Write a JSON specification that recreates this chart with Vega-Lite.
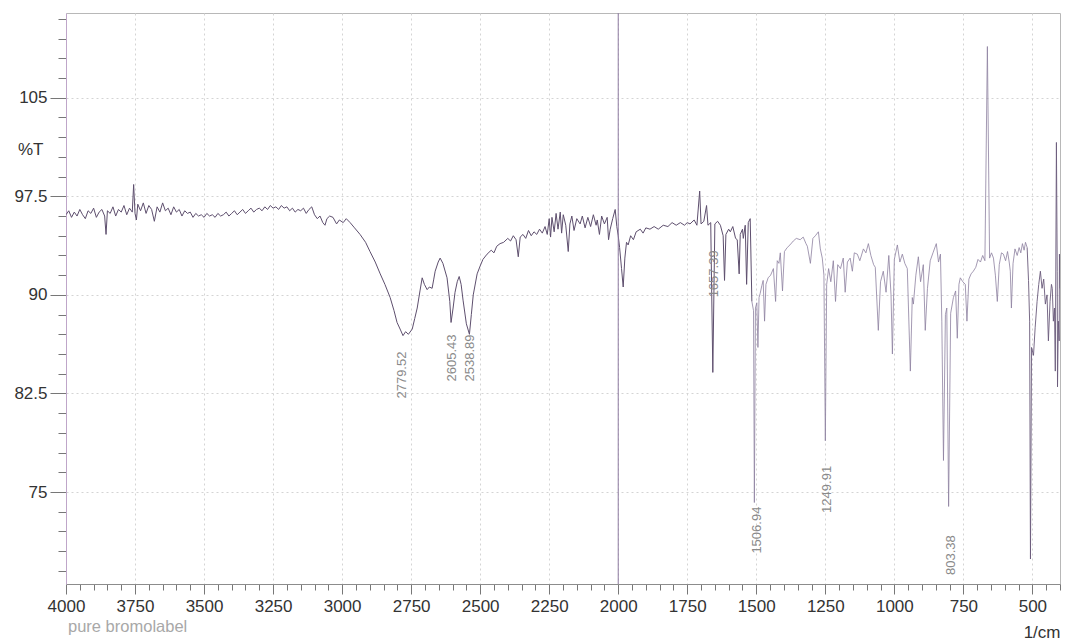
{
  "$schema": "https://vega.github.io/schema/vega-lite/v6.json",
  "width": 994,
  "height": 571,
  "autosize": {"type": "none"},
  "padding": {"left": 66, "top": 13, "right": 5, "bottom": 60},
  "background": "white",
  "config": {"view": {"stroke": "#b8b8b8", "strokeWidth": 1}, "font": "Liberation Sans"},
  "title": {"text": "pure bromolabel", "orient": "bottom", "anchor": "start", "frame": "group", "offset": -21, "fontSize": 16.5, "fontWeight": "normal", "color": "#a8a8a8", "baseline": "top", "font": "Liberation Sans", "dx": 2},
  "datasets": {
    "spectrum": [
      {"wn":4000,"T":96.1},{"wn":3990,"T":96.4},{"wn":3980,"T":95.9},{"wn":3970,"T":96.3},{"wn":3960,"T":96.0},{"wn":3950,"T":96.5},{"wn":3940,"T":96.1},{"wn":3930,"T":95.8},{"wn":3920,"T":96.4},{"wn":3910,"T":96.2},{"wn":3900,"T":96.6},{"wn":3890,"T":95.9},{"wn":3880,"T":96.3},{"wn":3870,"T":96.5},{"wn":3860,"T":96.0},{"wn":3855,"T":94.6},{"wn":3850,"T":96.4},{"wn":3840,"T":96.2},{"wn":3830,"T":96.7},{"wn":3820,"T":96.0},{"wn":3810,"T":96.5},{"wn":3800,"T":96.3},{"wn":3790,"T":96.8},{"wn":3780,"T":96.1},{"wn":3770,"T":96.6},{"wn":3760,"T":96.3},{"wn":3755,"T":98.4},{"wn":3750,"T":96.2},{"wn":3745,"T":95.7},{"wn":3740,"T":96.9},{"wn":3730,"T":96.4},{"wn":3720,"T":97.0},{"wn":3710,"T":96.2},{"wn":3700,"T":96.8},{"wn":3690,"T":96.5},{"wn":3680,"T":95.6},{"wn":3670,"T":96.7},{"wn":3660,"T":96.3},{"wn":3650,"T":97.0},{"wn":3640,"T":96.4},{"wn":3630,"T":96.6},{"wn":3620,"T":96.1},{"wn":3610,"T":96.7},{"wn":3600,"T":96.3},{"wn":3590,"T":96.5},{"wn":3580,"T":96.0},{"wn":3570,"T":96.4},{"wn":3560,"T":96.2},{"wn":3550,"T":96.3},{"wn":3540,"T":95.9},{"wn":3530,"T":96.2},{"wn":3520,"T":96.0},{"wn":3510,"T":96.1},{"wn":3500,"T":95.9},{"wn":3490,"T":96.2},{"wn":3480,"T":96.0},{"wn":3470,"T":96.1},{"wn":3460,"T":95.9},{"wn":3450,"T":96.2},{"wn":3440,"T":96.0},{"wn":3430,"T":96.1},{"wn":3420,"T":96.3},{"wn":3410,"T":96.0},{"wn":3400,"T":96.2},{"wn":3390,"T":96.4},{"wn":3380,"T":96.1},{"wn":3370,"T":96.3},{"wn":3360,"T":96.5},{"wn":3350,"T":96.2},{"wn":3340,"T":96.4},{"wn":3330,"T":96.6},{"wn":3320,"T":96.3},{"wn":3310,"T":96.5},{"wn":3300,"T":96.6},{"wn":3290,"T":96.4},{"wn":3280,"T":96.7},{"wn":3270,"T":96.5},{"wn":3260,"T":96.8},{"wn":3250,"T":96.6},{"wn":3240,"T":96.7},{"wn":3230,"T":96.5},{"wn":3220,"T":96.8},{"wn":3210,"T":96.6},{"wn":3200,"T":96.7},{"wn":3190,"T":96.4},{"wn":3180,"T":96.6},{"wn":3170,"T":96.3},{"wn":3160,"T":96.5},{"wn":3150,"T":96.4},{"wn":3140,"T":96.6},{"wn":3130,"T":96.2},{"wn":3120,"T":96.5},{"wn":3110,"T":96.7},{"wn":3100,"T":96.1},{"wn":3090,"T":95.8},{"wn":3080,"T":96.0},{"wn":3070,"T":95.5},{"wn":3062,"T":95.3},{"wn":3055,"T":95.8},{"wn":3045,"T":96.0},{"wn":3033,"T":95.9},{"wn":3020,"T":95.4},{"wn":3010,"T":95.7},{"wn":2996,"T":95.5},{"wn":2985,"T":95.8},{"wn":2971,"T":95.5},{"wn":2955,"T":95.1},{"wn":2935,"T":94.6},{"wn":2915,"T":94.0},{"wn":2899,"T":93.3},{"wn":2880,"T":92.5},{"wn":2862,"T":91.6},{"wn":2845,"T":90.8},{"wn":2826,"T":89.8},{"wn":2812,"T":88.8},{"wn":2801,"T":87.9},{"wn":2790,"T":87.4},{"wn":2779.52,"T":86.9},{"wn":2770,"T":87.2},{"wn":2760,"T":87.0},{"wn":2746,"T":87.4},{"wn":2737,"T":88.2},{"wn":2728,"T":89.0},{"wn":2718,"T":90.3},{"wn":2710,"T":91.3},{"wn":2702,"T":90.8},{"wn":2692,"T":90.4},{"wn":2684,"T":90.6},{"wn":2674,"T":90.5},{"wn":2668,"T":91.2},{"wn":2663,"T":91.8},{"wn":2652,"T":92.5},{"wn":2645,"T":92.8},{"wn":2635,"T":92.4},{"wn":2620,"T":91.3},{"wn":2610,"T":89.5},{"wn":2605.43,"T":87.9},{"wn":2598,"T":89.0},{"wn":2591,"T":90.2},{"wn":2583,"T":91.0},{"wn":2576,"T":91.4},{"wn":2569,"T":90.8},{"wn":2562,"T":89.6},{"wn":2550,"T":87.8},{"wn":2538.89,"T":87.0},{"wn":2532,"T":88.5},{"wn":2525,"T":90.0},{"wn":2511,"T":91.6},{"wn":2500,"T":92.2},{"wn":2490,"T":92.7},{"wn":2475,"T":93.1},{"wn":2460,"T":93.4},{"wn":2450,"T":93.2},{"wn":2440,"T":93.7},{"wn":2428,"T":93.9},{"wn":2415,"T":94.0},{"wn":2400,"T":94.3},{"wn":2390,"T":94.1},{"wn":2380,"T":94.5},{"wn":2370,"T":94.2},{"wn":2362,"T":92.9},{"wn":2355,"T":94.4},{"wn":2345,"T":94.6},{"wn":2335,"T":94.3},{"wn":2325,"T":94.9},{"wn":2315,"T":94.5},{"wn":2305,"T":94.8},{"wn":2295,"T":94.6},{"wn":2285,"T":95.0},{"wn":2275,"T":94.7},{"wn":2265,"T":95.2},{"wn":2257,"T":94.6},{"wn":2250,"T":95.8},{"wn":2245,"T":94.4},{"wn":2240,"T":95.9},{"wn":2232,"T":94.8},{"wn":2225,"T":96.2},{"wn":2218,"T":95.0},{"wn":2210,"T":96.3},{"wn":2205,"T":94.7},{"wn":2199,"T":96.1},{"wn":2190,"T":95.3},{"wn":2181,"T":93.3},{"wn":2175,"T":95.4},{"wn":2168,"T":96.0},{"wn":2160,"T":94.9},{"wn":2150,"T":95.8},{"wn":2138,"T":95.4},{"wn":2130,"T":96.0},{"wn":2120,"T":95.1},{"wn":2110,"T":95.9},{"wn":2100,"T":95.2},{"wn":2090,"T":96.1},{"wn":2080,"T":95.3},{"wn":2076,"T":95.7},{"wn":2068,"T":94.6},{"wn":2060,"T":96.0},{"wn":2050,"T":95.4},{"wn":2040,"T":95.9},{"wn":2035,"T":94.2},{"wn":2029,"T":95.0},{"wn":2020,"T":95.8},{"wn":2011,"T":96.5},{"wn":2005,"T":95.2},{"wn":2000,"T":94.5},{"wn":1995,"T":93.6},{"wn":1988,"T":92.0},{"wn":1982,"T":90.6},{"wn":1976,"T":92.8},{"wn":1970,"T":94.0},{"wn":1964,"T":93.8},{"wn":1955,"T":94.5},{"wn":1945,"T":94.2},{"wn":1935,"T":94.8},{"wn":1920,"T":95.0},{"wn":1910,"T":94.7},{"wn":1900,"T":95.1},{"wn":1885,"T":95.0},{"wn":1870,"T":95.2},{"wn":1855,"T":95.0},{"wn":1837,"T":95.3},{"wn":1820,"T":95.2},{"wn":1805,"T":95.5},{"wn":1790,"T":95.3},{"wn":1775,"T":95.5},{"wn":1760,"T":95.3},{"wn":1750,"T":95.5},{"wn":1740,"T":95.4},{"wn":1725,"T":95.7},{"wn":1715,"T":95.3},{"wn":1705,"T":97.9},{"wn":1700,"T":95.4},{"wn":1690,"T":95.6},{"wn":1680,"T":96.8},{"wn":1675,"T":95.3},{"wn":1665,"T":95.5},{"wn":1657.39,"T":84.1},{"wn":1650,"T":95.4},{"wn":1640,"T":95.6},{"wn":1630,"T":95.3},{"wn":1620,"T":94.5},{"wn":1615,"T":91.1},{"wn":1610,"T":94.6},{"wn":1600,"T":95.0},{"wn":1594,"T":94.8},{"wn":1585,"T":95.2},{"wn":1575,"T":94.3},{"wn":1569,"T":94.2},{"wn":1562,"T":91.6},{"wn":1558,"T":94.6},{"wn":1550,"T":95.0},{"wn":1547,"T":94.3},{"wn":1540,"T":95.3},{"wn":1535,"T":90.8},{"wn":1529,"T":95.5},{"wn":1522,"T":95.8},{"wn":1516,"T":89.5},{"wn":1510,"T":88.8},{"wn":1506.94,"T":74.2},{"wn":1503,"T":89.0},{"wn":1498,"T":89.4},{"wn":1494,"T":86.0},{"wn":1490,"T":89.8},{"wn":1486,"T":90.1},{"wn":1480,"T":90.7},{"wn":1475,"T":91.1},{"wn":1470,"T":88.0},{"wn":1465,"T":90.8},{"wn":1457,"T":91.3},{"wn":1448,"T":91.5},{"wn":1438,"T":92.0},{"wn":1430,"T":89.5},{"wn":1424,"T":92.6},{"wn":1418,"T":92.4},{"wn":1413,"T":93.2},{"wn":1405,"T":90.3},{"wn":1398,"T":93.3},{"wn":1388,"T":93.6},{"wn":1378,"T":93.8},{"wn":1366,"T":94.1},{"wn":1355,"T":94.3},{"wn":1341,"T":94.2},{"wn":1330,"T":94.4},{"wn":1320,"T":93.9},{"wn":1315,"T":93.7},{"wn":1304,"T":92.4},{"wn":1295,"T":94.3},{"wn":1286,"T":94.5},{"wn":1275,"T":94.8},{"wn":1268,"T":93.5},{"wn":1261,"T":92.8},{"wn":1255,"T":91.5},{"wn":1249.91,"T":78.9},{"wn":1245,"T":90.8},{"wn":1238,"T":92.0},{"wn":1230,"T":91.0},{"wn":1221,"T":92.6},{"wn":1213,"T":89.5},{"wn":1205,"T":92.3},{"wn":1195,"T":92.0},{"wn":1185,"T":92.8},{"wn":1178,"T":90.2},{"wn":1170,"T":92.5},{"wn":1160,"T":92.8},{"wn":1152,"T":91.8},{"wn":1145,"T":93.2},{"wn":1134,"T":93.1},{"wn":1125,"T":92.6},{"wn":1112,"T":93.5},{"wn":1103,"T":93.2},{"wn":1094,"T":93.9},{"wn":1085,"T":93.0},{"wn":1075,"T":92.3},{"wn":1069,"T":92.1},{"wn":1058,"T":87.3},{"wn":1050,"T":91.0},{"wn":1040,"T":91.8},{"wn":1030,"T":90.2},{"wn":1020,"T":93.0},{"wn":1012,"T":90.0},{"wn":1007,"T":85.5},{"wn":1000,"T":92.7},{"wn":989,"T":93.8},{"wn":980,"T":92.5},{"wn":971,"T":93.1},{"wn":962,"T":92.4},{"wn":953,"T":92.0},{"wn":942,"T":84.2},{"wn":935,"T":89.8},{"wn":931,"T":89.3},{"wn":922,"T":91.5},{"wn":913,"T":92.9},{"wn":905,"T":91.0},{"wn":895,"T":92.3},{"wn":888,"T":87.3},{"wn":880,"T":90.5},{"wn":870,"T":92.6},{"wn":860,"T":93.2},{"wn":848,"T":93.9},{"wn":840,"T":92.5},{"wn":833,"T":93.1},{"wn":828,"T":88.0},{"wn":822,"T":77.4},{"wn":815,"T":88.5},{"wn":810,"T":89.0},{"wn":803.38,"T":73.9},{"wn":796,"T":88.6},{"wn":786,"T":89.8},{"wn":778,"T":90.3},{"wn":772,"T":86.7},{"wn":766,"T":90.8},{"wn":761,"T":91.3},{"wn":752,"T":91.0},{"wn":743,"T":90.8},{"wn":737,"T":88.0},{"wn":730,"T":91.2},{"wn":722,"T":91.6},{"wn":714,"T":91.8},{"wn":705,"T":92.1},{"wn":697,"T":92.7},{"wn":688,"T":92.5},{"wn":680,"T":93.0},{"wn":672,"T":92.6},{"wn":663,"T":108.9},{"wn":655,"T":92.8},{"wn":648,"T":93.2},{"wn":641,"T":92.8},{"wn":634,"T":91.5},{"wn":627,"T":89.5},{"wn":620,"T":92.3},{"wn":612,"T":93.2},{"wn":605,"T":93.1},{"wn":597,"T":92.6},{"wn":590,"T":93.3},{"wn":584,"T":92.5},{"wn":580,"T":91.8},{"wn":576,"T":89.0},{"wn":570,"T":92.4},{"wn":563,"T":93.5},{"wn":555,"T":93.0},{"wn":548,"T":93.6},{"wn":542,"T":93.2},{"wn":536,"T":93.9},{"wn":530,"T":93.4},{"wn":525,"T":94.0},{"wn":519,"T":93.6},{"wn":514,"T":91.1},{"wn":510,"T":88.0},{"wn":507,"T":69.9},{"wn":503,"T":86.0},{"wn":496,"T":85.4},{"wn":490,"T":87.5},{"wn":483,"T":89.5},{"wn":477,"T":90.8},{"wn":471,"T":91.8},{"wn":465,"T":90.5},{"wn":459,"T":91.2},{"wn":453,"T":89.3},{"wn":447,"T":90.0},{"wn":442,"T":86.5},{"wn":436,"T":89.5},{"wn":431,"T":90.8},{"wn":428,"T":90.5},{"wn":424,"T":88.0},{"wn":420,"T":89.0},{"wn":417,"T":84.2},{"wn":413,"T":101.6},{"wn":410,"T":91.8},{"wn":409,"T":83.0},{"wn":406,"T":88.0},{"wn":403,"T":86.5},{"wn":402,"T":93.1},{"wn":400,"T":90.5}
    ],
    "marker": [{"wn": 2000}],
    "labels": [
      {"wn": 2783, "T": 83.9, "label": "2779.52"},
      {"wn": 2601, "T": 85.2, "label": "2605.43"},
      {"wn": 2536, "T": 85.2, "label": "2538.89"},
      {"wn": 1654, "T": 91.6, "label": "1657.39"},
      {"wn": 1496, "T": 72.1, "label": "1506.94"},
      {"wn": 1243, "T": 75.2, "label": "1249.91"},
      {"wn": 795, "T": 70.2, "label": "803.38"}
    ]
  },
  "encoding": {
    "x": {
      "field": "wn", "type": "quantitative",
      "scale": {"domain": [4000, 400], "nice": false, "zero": false},
      "axis": {
        "title": "1/cm", "titleX": 994, "titleY": 40, "titleAlign": "right", "titleBaseline": "top",
        "titleFontSize": 17, "titleFontWeight": "normal", "titleColor": "#333", "titleFont": "Liberation Sans",
        "values": [4000,3950,3900,3850,3800,3750,3700,3650,3600,3550,3500,3450,3400,3350,3300,3250,3200,3150,3100,3050,3000,2950,2900,2850,2800,2750,2700,2650,2600,2550,2500,2450,2400,2350,2300,2250,2200,2150,2100,2050,2000,1950,1900,1850,1800,1750,1700,1650,1600,1550,1500,1450,1400,1350,1300,1250,1200,1150,1100,1050,1000,950,900,850,800,750,700,650,600,550,500,450,400],
        "labelExpr": "datum.value % 250 == 0 ? toString(datum.value) : ''",
        "labelFontSize": 17, "labelColor": "#333", "labelFont": "Liberation Sans", "labelPadding": 4,
        "labelOverlap": false, "labelFlush": false,
        "tickColor": "#777",
        "tickSize": {"condition": {"test": "datum.value % 250 == 0", "value": 10}, "value": 6},
        "domainColor": "#8c8c8c",
        "grid": true, "gridColor": "#d4d4d4", "gridDash": [2, 3],
        "gridOpacity": {"condition": {"test": "datum.value % 250 == 0", "value": 1}, "value": 0}
      }
    },
    "y": {
      "field": "T", "type": "quantitative",
      "scale": {"domain": [68, 111.45], "nice": false, "zero": false},
      "axis": {
        "title": "%T", "titleAngle": 0, "titleX": -23, "titleY": 136, "titleAlign": "right", "titleBaseline": "middle",
        "titleFontSize": 17, "titleFontWeight": "normal", "titleColor": "#333", "titleFont": "Liberation Sans",
        "values": [69,70.5,72,73.5,75,76.5,78,79.5,81,82.5,84,85.5,87,88.5,90,91.5,93,94.5,96,97.5,99,100.5,102,103.5,105,106.5,108,109.5,111],
        "labelExpr": "indexof([75,82.5,90,97.5,105], datum.value) >= 0 ? toString(datum.value) : ''",
        "labelFontSize": 17, "labelColor": "#333", "labelFont": "Liberation Sans", "labelPadding": 3,
        "labelOverlap": false, "labelFlush": false,
        "tickColor": "#777",
        "tickSize": {"condition": {"test": "indexof([75,82.5,90,97.5,105], datum.value) >= 0", "value": 16}, "value": 8},
        "domainColor": "#bfa6c9",
        "grid": true, "gridColor": "#d4d4d4", "gridDash": [2, 3],
        "gridOpacity": {"condition": {"test": "indexof([75,82.5,90,97.5,105], datum.value) >= 0", "value": 1}, "value": 0}
      }
    }
  },
  "layer": [
    {
      "data": {"name": "spectrum"},
      "transform": [{"filter": "datum.wn >= 1516"}],
      "mark": {"type": "line", "color": "#5e4f6e", "strokeWidth": 1, "clip": true}
    },
    {
      "data": {"name": "spectrum"},
      "transform": [{"filter": "datum.wn <= 1516 && datum.wn >= 519"}],
      "mark": {"type": "line", "color": "#8d80a0", "strokeWidth": 0.8, "clip": true}
    },
    {
      "data": {"name": "spectrum"},
      "transform": [{"filter": "datum.wn <= 519"}],
      "mark": {"type": "line", "color": "#6a5a7a", "strokeWidth": 0.9, "clip": true}
    },
    {
      "data": {"name": "marker"},
      "mark": {"type": "rule", "color": "#8e7aa0", "strokeWidth": 1},
      "encoding": {"y": null}
    },
    {
      "data": {"name": "labels"},
      "mark": {"type": "text", "angle": 270, "align": "center", "baseline": "middle", "fontSize": 13, "color": "#8a8a8a", "font": "Liberation Sans"},
      "encoding": {
        "text": {"field": "label"}
      }
    }
  ]
}
